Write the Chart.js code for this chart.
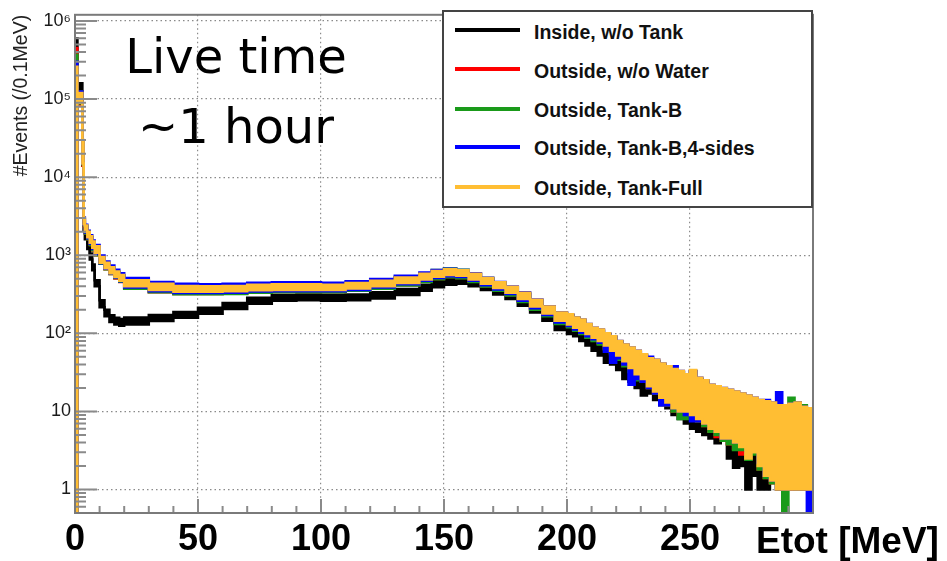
<!DOCTYPE html>
<html>
<head>
<meta charset="utf-8">
<title>Etot</title>
<script src="https://cdn.jsdelivr.net/npm/chart.js@4.4.1/dist/chart.umd.min.js"></script>
<style>
    body { margin: 0; background: #fff; }
    #wrap { position: relative; width: 947px; height: 561px; overflow: hidden; font-family: "Liberation Sans", Arial, sans-serif; }
    #grafico { position: absolute; left: 0; top: 0; }
    .legenda { position: absolute; left: 442px; top: 10px; width: 371px; height: 198px; box-sizing: border-box; border: 2px solid #444; background: #fff; }
    .legenda .linha { position: absolute; left: 11px; width: 65px; height: 4px; }
    .legenda .txt { position: absolute; left: 90px; font: bold 19.5px "Liberation Sans", Arial, sans-serif; line-height: 20px; white-space: nowrap; color: #111; }
    .anotacao { position: absolute; left: 86px; top: 21px; width: 300px; text-align: center; font: 48px "DejaVu Sans", Verdana, sans-serif; line-height: 70px; color: #000; }
    .eixo-x { position: absolute; left: 756px; top: 522px; font: bold 37px "Liberation Sans", Arial, sans-serif; line-height: 37px; white-space: nowrap; color: #000; }
</style>
</head>
<body>
<div id="wrap">
    <canvas id="grafico" width="947" height="561"></canvas>
    <div class="legenda" id="legenda"></div>
    <div class="anotacao">Live time<br>~1 hour</div>
    <div class="eixo-x">Etot [MeV]</div>
</div>
<script>
// ========== DADOS ==========

// bordas esquerdas dos bins (MeV), última = fim do eixo
const binEdges = [0, 1, 3, 3.5, 4, 5, 6, 7, 8, 10,
    12, 14, 16, 18, 20, 30, 40, 50, 60, 70,
    80, 90, 100, 110, 120, 130, 140, 145, 150, 155,
    160, 165, 170, 175, 180, 185, 190, 195, 200, 202.5,
    205, 207.5, 210, 212.5, 215, 217.5, 220, 222.5, 225, 227.5,
    230, 232.5, 235, 237.5, 240, 242.5, 245, 247.5, 250, 252.5,
    255, 257.5, 260, 262.5, 265, 267.5, 270, 272.5, 275, 277.5,
    280, 282.5, 285, 287.5, 290, 292.5, 295, 297.5, 300];

// envelope superior / inferior de cada série por bin
const insideHi = [600000, 160000, 22000, 2600, 2000, 1450, 1050, 760, 480, 265,
    200, 170, 158, 152, 160, 172, 188, 212, 245, 285,
    310, 315, 312, 315, 335, 370, 420, 470, 510, 520,
    480, 430, 380, 330, 270, 225, 175, 135,
    125, 115, 100, 90, 80, 72, 62, 55, 48, 42,
    38, 34, 30, 28, 24, 22, 20, 18, 17, 15,
    14, 13, 12, 11, 10, 9, 9, 8, 8, 7,
    7, 6, 6, 6, 5, 5, 5, 5, 4, 4];
const insideLo = [0.5, 110000, 14000, 2100, 1600, 1200, 880, 640, 400, 215,
    165, 140, 130, 125, 130, 144, 158, 178, 205, 240,
    262, 265, 262, 265, 280, 310, 350, 390, 420, 430,
    400, 360, 315, 275, 225, 185, 145, 110,
    98, 92, 80, 70, 60, 52, 42, 40, 34, 26,
    24, 20, 16, 17, 14, 12, 11, 9, 8, 7,
    6, 5.5, 5, 4.5, 3.9, 4.5, 2.5, 1.9, 2, 1,
    1.5, 1, 1, 1.3, 1, 1.2, 1.5, 1, 1, 1];

const noWaterHi = [450000, 125000, 28000, 2900, 2350, 1950, 1700, 1450, 1270, 930,
    790, 690, 610, 550, 470, 420, 395, 390, 395, 410,
    415, 415, 410, 430, 460, 510, 570, 615, 645, 625,
    570, 500, 440, 385, 320, 262, 214, 178,
    170, 155, 145, 128, 115, 108, 98, 90, 78, 70,
    64, 58, 52, 47, 44, 40, 37, 34, 32, 29,
    33, 26, 24, 21, 20, 19, 18, 17, 16, 15,
    14, 13.5, 13, 12.5, 12, 11.5, 12, 12, 11, 10.5];
const noWaterLo = [0.5, 85000, 14000, 2350, 1900, 1600, 1350, 1150, 1000, 780,
    660, 575, 505, 455, 375, 335, 318, 318, 322, 332,
    338, 338, 338, 350, 375, 412, 458, 495, 525, 510,
    458, 400, 355, 308, 256, 205, 168, 135,
    122, 110, 100, 90, 82, 74, 64, 56, 48, 40,
    34, 28, 24, 20, 17, 14, 12, 10, 9, 9,
    8.5, 7.5, 6.5, 5.5, 4.7, 4.2, 3.8, 3.3, 2.8, 2.4,
    3.0, 1.8, 1.4, 1.2, 1, 1, 1, 1, 1, 1];

const tankBHi = [370000, 125000, 28000, 2950, 2380, 1980, 1730, 1480, 1290, 940,
    795, 695, 615, 555, 475, 428, 402, 398, 402, 418,
    424, 424, 420, 440, 472, 525, 590, 645, 675, 650,
    585, 510, 448, 390, 325, 265, 215, 180,
    170, 158, 146, 130, 116, 108, 98, 90, 79, 70,
    64, 58, 52, 47, 44, 40, 37, 34, 32, 29,
    33, 26, 24, 21, 20, 19, 18, 17, 16, 15,
    14, 13.5, 13, 12.5, 12, 12, 15, 13, 12, 11];
const tankBLo = [0.5, 88000, 14500, 2400, 1900, 1600, 1350, 1160, 1000, 780,
    660, 575, 510, 458, 372, 335, 316, 316, 320, 330,
    335, 335, 335, 350, 372, 410, 455, 492, 522, 508,
    455, 398, 352, 305, 252, 200, 165, 132,
    120, 108, 98, 88, 80, 72, 62, 54, 46, 38,
    32, 25, 24, 20, 17, 14, 12, 10, 8, 8,
    9, 7.5, 6.5, 5.5, 5, 4.2, 3.8, 3.2, 3.2, 2.4,
    2.8, 1.8, 1.4, 1.2, 1, 0.5, 1.1, 1, 1, 1];

const tankB4Hi = [300000, 125000, 29000, 3050, 2450, 2060, 1800, 1550, 1350, 990,
    830, 740, 650, 590, 510, 455, 430, 425, 430, 445,
    450, 450, 445, 465, 495, 545, 600, 645, 670, 648,
    590, 515, 455, 398, 335, 272, 222, 186,
    176, 160, 150, 132, 118, 112, 100, 92, 80, 72,
    66, 60, 54, 50, 46, 41, 38, 38, 33, 30,
    33, 27, 25, 22, 21, 20, 19, 18, 17, 16,
    15, 14, 14, 13, 17.6, 12, 12.5, 13, 11.5, 11];
const tankB4Lo = [0.5, 90000, 15000, 2450, 1950, 1650, 1400, 1200, 1040, 790,
    670, 585, 520, 465, 385, 345, 328, 328, 332, 342,
    346, 346, 346, 360, 385, 425, 472, 510, 540, 525,
    470, 412, 365, 318, 262, 210, 172, 138,
    124, 112, 102, 92, 84, 76, 58, 42, 48, 40,
    22, 26, 24, 20, 17, 12, 12, 11, 10, 9,
    7.5, 7.5, 7, 6, 5.5, 4.5, 4.5, 4, 4, 3,
    3.2, 2.2, 1.5, 1.3, 1, 1, 1, 1, 1, 0.5];

const tankFullHi = [260000, 120000, 30000, 3000, 2400, 2000, 1750, 1500, 1300, 950,
    800, 700, 620, 560, 480, 430, 405, 400, 405, 420,
    425, 425, 420, 440, 470, 520, 580, 630, 660, 640,
    580, 510, 450, 395, 330, 270, 220, 185,
    175, 160, 150, 132, 118, 112, 100, 92, 80, 72,
    66, 60, 54, 48, 46, 41, 38, 35, 33, 30,
    34, 27, 25, 22, 21, 20, 19, 18, 17, 16,
    15, 14, 13.5, 13, 12, 12, 12.5, 13, 11.5, 11];
const tankFullLo = [0.5, 90000, 15000, 2500, 2000, 1700, 1450, 1250, 1080, 800,
    680, 590, 525, 470, 400, 360, 340, 340, 345, 355,
    360, 360, 360, 375, 400, 440, 490, 530, 560, 545,
    490, 430, 380, 330, 275, 220, 180, 145,
    130, 118, 108, 98, 88, 80, 70, 60, 52, 44,
    36, 30, 26, 21, 18, 15, 13, 11, 10, 10,
    9, 8, 7, 6, 5.5, 4.5, 4.5, 4, 3.5, 2.5,
    3, 2, 1.5, 1.3, 1, 1, 1, 1, 1, 1];

const seriesNames = ['Inside, w/o Tank', 'Outside, w/o Water', 'Outside, Tank-B', 'Outside, Tank-B,4-sides', 'Outside, Tank-Full'];
const seriesColors = ['#000000', '#ff0000', '#1a9a1a', '#0000ff', '#ffbe33'];

const xTicks = [0, 50, 100, 150, 200, 250];
const yTicks = [1, 10, 100, 1000, 10000, 100000, 1000000];
const yTickLabels = ['1', '10', '10²', '10³', '10⁴', '10⁵', '10⁶'];

// ========== MONTAGEM ==========

// histograma em degraus: um ponto por borda esquerda + ponto final
function pontos(vals) {
    const p = vals.map((v, i) => ({ x: binEdges[i], y: v }));
    p.push({ x: binEdges[vals.length], y: vals[vals.length - 1] });
    return p;
}

// ordem de desenho: primeiro dataset fica por cima
const faixas = [
    [tankFullHi, tankFullLo, 4],
    [tankB4Hi, tankB4Lo, 3],
    [tankBHi, tankBLo, 2],
    [noWaterHi, noWaterLo, 1],
    [insideHi, insideLo, 0]
];
const datasets = [];
faixas.forEach(([hi, lo, c]) => {
    datasets.push({ data: pontos(hi), borderColor: seriesColors[c], borderWidth: 2.5, stepped: 'before', fill: false });
    datasets.push({ data: pontos(lo), borderColor: seriesColors[c], backgroundColor: seriesColors[c], borderWidth: 2.5, stepped: 'before', fill: '-1' });
});

// moldura e ticks menores no estilo ROOT
const moldura = {
    id: 'moldura',
    afterDatasetsDraw(chart) {
        const { ctx, chartArea: a, scales: { x, y } } = chart;
        ctx.save();
        ctx.strokeStyle = '#8a8a8a';
        ctx.lineWidth = 2;
        ctx.beginPath();
        for (let k = -1; k <= 6; k++) {
            for (let m = 1; m <= 9; m++) {
                const v = m * Math.pow(10, k);
                if (v < y.min || v > y.max) continue;
                const py = y.getPixelForValue(v);
                ctx.moveTo(a.left, py);
                ctx.lineTo(a.left + (m === 1 ? 22 : 11), py);
            }
        }
        for (let e = 10; e < 300; e += 10) {
            const px = x.getPixelForValue(e);
            ctx.moveTo(px, a.bottom);
            ctx.lineTo(px, a.bottom - (e % 50 === 0 ? 14 : 7));
        }
        ctx.stroke();
        ctx.strokeStyle = '#7a7a7a';
        ctx.strokeRect(a.left, a.top, a.right - a.left, a.bottom - a.top);
        ctx.restore();
    }
};

const corGrade = c => (c.tick && c.tick.value === 0) ? 'rgba(0,0,0,0)' : '#8a8a8a';

new Chart(document.getElementById('grafico'), {
    type: 'line',
    data: { datasets },
    plugins: [moldura],
    options: {
        responsive: false,
        animation: false,
        events: [],
        layout: { padding: { top: 10, right: 134, left: 0, bottom: 0 } },
        elements: { point: { radius: 0 }, line: { tension: 0 } },
        plugins: { legend: { display: false }, tooltip: { enabled: false } },
        scales: {
            x: {
                type: 'linear', min: 0, max: 300,
                afterBuildTicks: s => { s.ticks = xTicks.map(v => ({ value: v })); },
                afterFit: s => { s.height = 48; },
                grid: { color: corGrade, lineWidth: 1.2, drawTicks: false },
                border: { display: false, dash: [1.5, 3] },
                ticks: { color: '#000', font: { family: 'Liberation Sans', size: 36, weight: 'bold' }, padding: 5, maxRotation: 0, autoSkip: false }
            },
            y: {
                type: 'logarithmic', min: 0.5, max: 1.2e6,
                afterBuildTicks: s => { s.ticks = yTicks.map(v => ({ value: v })); },
                afterFit: s => { s.width = 75; },
                grid: { color: '#8a8a8a', lineWidth: 1.2, drawTicks: false },
                border: { display: false, dash: [1.5, 3] },
                ticks: { callback: (v, i) => yTickLabels[i], color: '#1a1a1a', font: { family: 'Liberation Sans', size: 18 }, padding: 4, autoSkip: false },
                title: { display: true, text: '#Events (/0.1MeV)', align: 'end', color: '#222', font: { family: 'Liberation Sans', size: 19.5 }, padding: { top: 10, bottom: 0 } }
            }
        }
    }
});

// ========== LEGENDA ==========
const legenda = document.getElementById('legenda');
const linhaTop = [16, 55, 95, 133, 173];
const textoTop = [10, 49, 88, 126, 166];
seriesNames.forEach((nome, i) => {
    const l = document.createElement('div');
    l.className = 'linha';
    l.style.top = linhaTop[i] + 'px';
    l.style.background = seriesColors[i];
    legenda.appendChild(l);
    const t = document.createElement('div');
    t.className = 'txt';
    t.style.top = textoTop[i] + 'px';
    t.textContent = nome;
    legenda.appendChild(t);
});
</script>
</body>
</html>
